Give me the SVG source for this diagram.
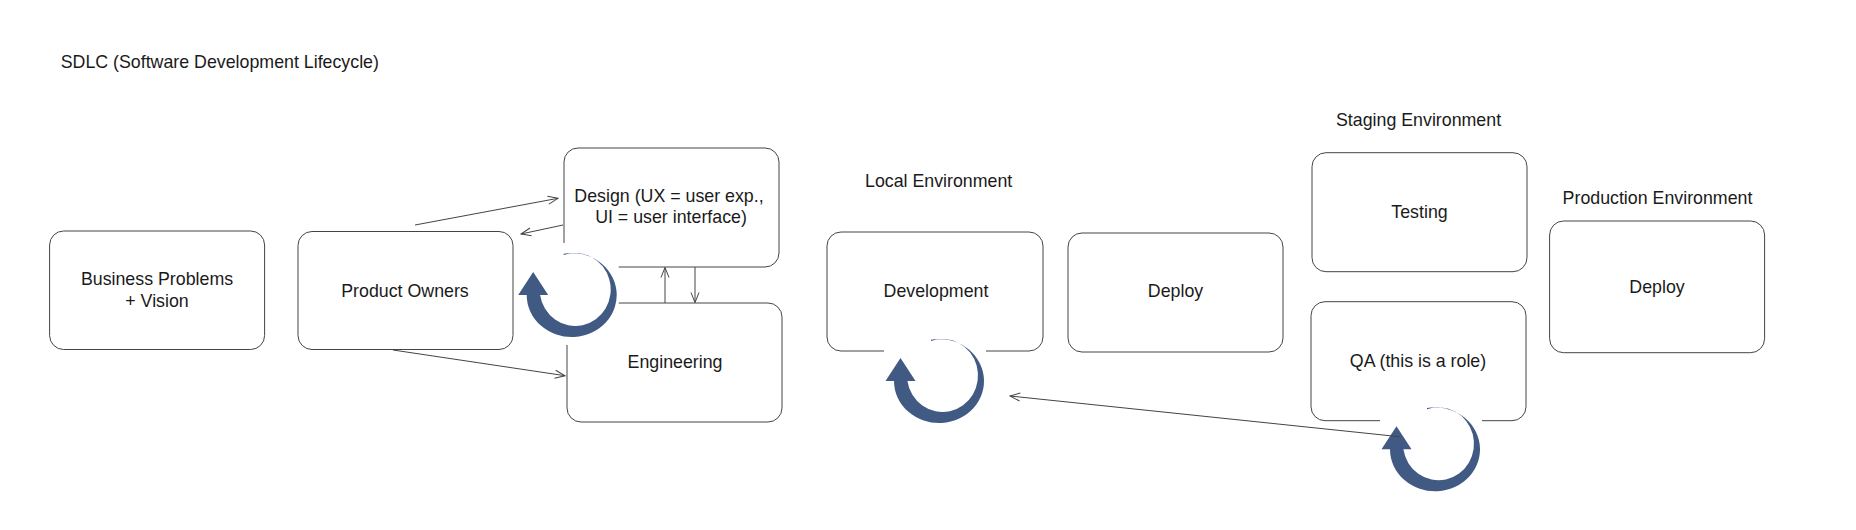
<svg xmlns="http://www.w3.org/2000/svg" xmlns:xlink="http://www.w3.org/1999/xlink" width="1856" height="530" viewBox="0 0 1856 530">
<style>
  .box { fill: #ffffff; stroke: #444444; stroke-width: 1; }
  .lbl { font-family: "Liberation Sans", Arial, Helvetica, sans-serif; font-size: 17.8px; fill: #1a1a1a; }
  .mid { text-anchor: middle; }
  .conn { fill: none; stroke: #444444; stroke-width: 1; }
  .loop { fill: #405A84; }
  .mask { fill: #ffffff; }
</style>
<defs>
  <marker id="open" viewBox="0 0 12 10" refX="11" refY="5" markerWidth="12" markerHeight="10" markerUnits="userSpaceOnUse" orient="auto">
    <path d="M1,1 L11,5 L1,9" fill="none" stroke="#444444" stroke-width="1"/>
  </marker>
  <path id="loopShape" d="M -8,-41.33 A 45 42 0 1 1 -45,0 L -53.5,0 L -38.5,-23 L -23.5,0 L -31.6,0 A 35.5 36.5 0 1 0 -8,-40.03 Z"/>
</defs>
<rect width="1856" height="530" fill="#ffffff"/>

<text class="lbl" x="60.7" y="68">SDLC (Software Development Lifecycle)</text>
<text class="lbl" x="865" y="187">Local Environment</text>
<text class="lbl" x="1336" y="126">Staging Environment</text>
<text class="lbl" x="1562.6" y="204">Production Environment</text>

<g id="business">
  <rect class="box" x="49.6" y="231" width="215" height="118.5" rx="14"/>
  <text class="lbl mid" x="157" y="285">Business Problems</text>
  <text class="lbl mid" x="157" y="306.7">+ Vision</text>
</g>
<g id="product-owners">
  <rect class="box" x="298" y="231.5" width="215" height="118" rx="14"/>
  <text class="lbl mid" x="405" y="297">Product Owners</text>
</g>
<g id="design">
  <rect class="box" x="564" y="148" width="215" height="119" rx="14"/>
  <text class="lbl mid" x="669" y="202">Design (UX = user exp.,</text>
  <text class="lbl mid" x="671" y="223">UI = user interface)</text>
</g>
<g id="engineering">
  <rect class="box" x="567" y="303" width="215" height="119" rx="14"/>
  <text class="lbl mid" x="675" y="368">Engineering</text>
</g>
<g id="development">
  <rect class="box" x="827" y="232" width="216" height="119" rx="14"/>
  <text class="lbl mid" x="936" y="297">Development</text>
</g>
<g id="deploy-local">
  <rect class="box" x="1068" y="233" width="215" height="119" rx="14"/>
  <text class="lbl mid" x="1175.5" y="297">Deploy</text>
</g>
<g id="testing">
  <rect class="box" x="1312" y="152.7" width="215" height="119" rx="14"/>
  <text class="lbl mid" x="1419.5" y="218">Testing</text>
</g>
<g id="qa">
  <rect class="box" x="1311" y="301.7" width="215" height="119" rx="14"/>
  <text class="lbl mid" x="1418" y="367">QA (this is a role)</text>
</g>
<g id="deploy-prod">
  <rect class="box" x="1549.6" y="221" width="215" height="131.7" rx="14"/>
  <text class="lbl mid" x="1657" y="293">Deploy</text>
</g>

<g id="loop-design-eng" transform="translate(571.7,295)">
  <rect class="mask" x="-55" y="-52" width="102" height="102"/>
  <use xlink:href="#loopShape" href="#loopShape" class="loop"/>
</g>
<g id="loop-development" transform="translate(939,381)">
  <rect class="mask" x="-55" y="-52" width="102" height="102"/>
  <use xlink:href="#loopShape" href="#loopShape" class="loop"/>
</g>
<g id="loop-qa" transform="translate(1435,449.3)">
  <rect class="mask" x="-55" y="-52" width="102" height="102"/>
  <use xlink:href="#loopShape" href="#loopShape" class="loop"/>
</g>

<g id="connectors">
  <line class="conn" x1="415" y1="225" x2="558" y2="198.3" marker-end="url(#open)"/>
  <line class="conn" x1="563" y1="225" x2="521" y2="234" marker-end="url(#open)"/>
  <line class="conn" x1="393" y1="350" x2="565" y2="375.7" marker-end="url(#open)"/>
  <line class="conn" x1="665" y1="303" x2="665" y2="267.5" marker-end="url(#open)"/>
  <line class="conn" x1="695" y1="267" x2="695" y2="302.5" marker-end="url(#open)"/>
  <line class="conn" x1="1399.3" y1="436.7" x2="1010" y2="396" marker-end="url(#open)"/>
</g>
</svg>
